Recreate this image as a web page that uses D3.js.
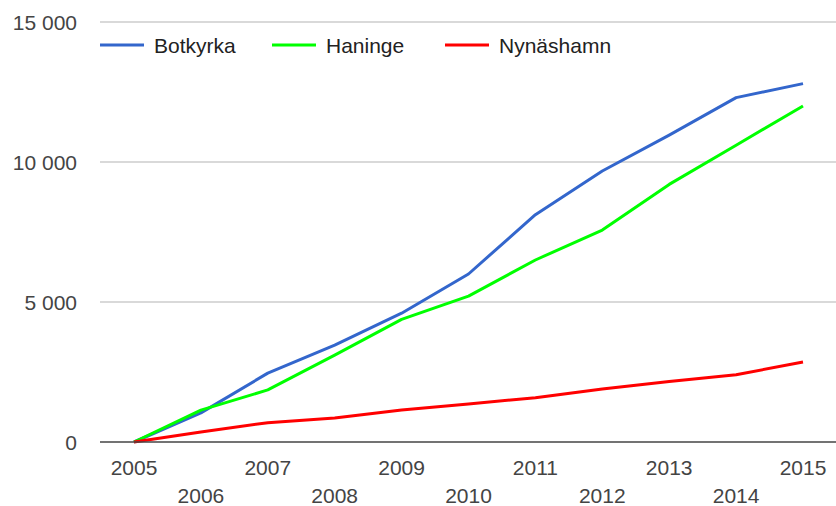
<!DOCTYPE html>
<html>
<head>
<meta charset="utf-8">
<style>
    body { margin: 0; background: #fff; font-family: "Liberation Sans", Arial, sans-serif; }
    svg { display: block; }
</style>
<script src="https://cdn.jsdelivr.net/npm/d3@7"></script>
</head>
<body>
<svg id="chart"></svg>
<script>
    // Data
    const years = [2005, 2006, 2007, 2008, 2009, 2010, 2011, 2012, 2013, 2014, 2015];
    const botkyrka  = [0, 1040, 2460, 3460, 4600, 6000, 8120, 9680, 10960, 12300, 12800];
    const haninge   = [0, 1140, 1860, 3100, 4380, 5210, 6500, 7570, 9200, 10600, 12000];
    const nynashamn = [0, 360, 690, 860, 1140, 1360, 1580, 1890, 2160, 2400, 2860];
    const seriesNames = ["Botkyrka", "Haninge", "Nynäshamn"];
    const colors = ["#3366cc", "#00ff00", "#ff0000"];
    const yTicks = [0, 5000, 10000, 15000];

    const ancho = 836, alto = 506;
    const svg = d3.select("#chart").attr("width", ancho).attr("height", alto);

    const x = d3.scaleLinear().domain([2005, 2015]).range([134, 803]);
    const y = d3.scaleLinear().domain([0, 15000]).range([442, 22]);

    const fmt = v => d3.format(",")(v).replace(/,/g, " ");

    // gridlines
    svg.append("g").selectAll("line")
        .data(yTicks.filter(t => t > 0))
        .join("line")
        .attr("x1", 100).attr("x2", ancho)
        .attr("y1", d => y(d)).attr("y2", d => y(d))
        .attr("stroke", "#cccccc").attr("stroke-width", 1.4);

    // y labels
    svg.append("g").selectAll("text")
        .data(yTicks)
        .join("text")
        .attr("x", 77).attr("y", d => y(d))
        .attr("dy", "0.36em")
        .attr("text-anchor", "end")
        .attr("font-size", 21)
        .attr("fill", "#444")
        .text(fmt);

    // lines
    const serie = [botkyrka, haninge, nynashamn];
    const linea = d3.line().x((d, i) => x(years[i])).y(d => y(d));
    svg.append("g").selectAll("path")
        .data(serie)
        .join("path")
        .attr("d", linea)
        .attr("fill", "none")
        .attr("stroke", (d, i) => colors[i])
        .attr("stroke-width", 3)
        .attr("stroke-linejoin", "round");

    // baseline
    svg.append("line")
        .attr("x1", 100).attr("x2", ancho)
        .attr("y1", y(0)).attr("y2", y(0))
        .attr("stroke", "#444").attr("stroke-width", 1.5);

    // x labels, staggered in two rows
    svg.append("g").selectAll("text")
        .data(years)
        .join("text")
        .attr("x", d => x(d))
        .attr("y", (d, i) => i % 2 === 0 ? 475 : 503)
        .attr("text-anchor", "middle")
        .attr("font-size", 21)
        .attr("fill", "#444")
        .text(d => d);

    // legend
    const legendX = [100, 272, 445];
    const leyenda = svg.append("g").selectAll("g")
        .data(seriesNames)
        .join("g")
        .attr("transform", (d, i) => `translate(${legendX[i]},45)`);
    leyenda.append("line")
        .attr("x1", 0).attr("x2", 44)
        .attr("stroke", (d, i) => colors[i]).attr("stroke-width", 3);
    leyenda.append("text")
        .attr("x", 54).attr("dy", "0.36em")
        .attr("font-size", 21)
        .attr("fill", "#222")
        .text(d => d);
</script>
</body>
</html>
